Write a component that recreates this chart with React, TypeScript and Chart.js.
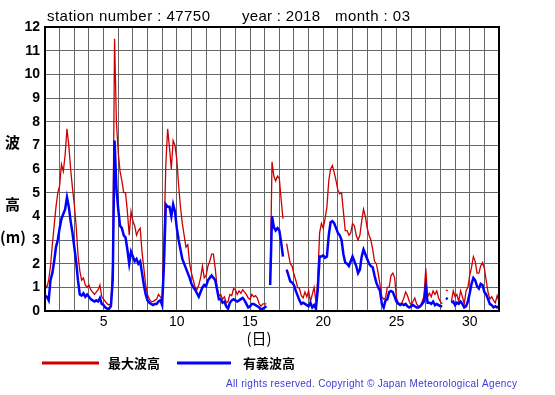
import React, { useEffect, useRef } from "react";
import { Chart, registerables } from "chart.js";

Chart.register(...registerables);

// 3-hourly samples starting at day 1.0 (00h, March 1) through day 32.0 (April 1, 00h)
const START_DAY = 1;
const STEP_DAY = 0.125;

const xTickLabels = [5, 10, 15, 20, 25, 30];
const yTicks = [0, 1, 2, 3, 4, 5, 6, 7, 8, 9, 10, 11, 12];

// 最大波高 (maximum wave height, m)
const maxWave: (number | null)[] = [
  1.1, 1.0, 1.3, 1.9, 2.8, 3.6, 4.4, 5.0, // day 1
  5.3, 6.2, 5.9, 6.6, 7.7, 7.0, 6.0, 5.2, // day 2
  4.5, 3.6, 2.4, 1.7, 1.3, 1.4, 1.1, 1.0, // day 3
  1.1, 0.9, 0.8, 0.7, 0.8, 0.9, 1.1, 0.6, // day 4
  0.5, 0.4, 0.3, 0.25, 0.3, 2.0, 11.5, 8.0, // day 5
  6.7, 5.9, 5.5, 5.0, 5.0, 4.2, 3.2, 4.2, // day 6
  3.8, 3.6, 3.2, 3.4, 3.5, 2.5, 1.8, 1.1, // day 7
  0.7, 0.5, 0.4, 0.4, 0.45, 0.5, 0.7, 0.6, // day 8
  0.5, 3.0, 6.2, 7.7, 6.9, 6.0, 7.2, 7.0, // day 9
  6.4, 5.3, 4.4, 3.7, 3.2, 2.7, 2.8, 2.0, // day 10
  1.6, 1.3, 1.0, 0.9, 1.1, 1.4, 1.9, 1.4, // day 11
  1.5, 1.9, 2.1, 2.4, 2.4, 1.8, 1.0, 0.65, // day 12
  0.7, 0.5, 0.6, 0.35, 0.4, 0.7, 0.65, 0.95, // day 13
  0.9, 0.7, 0.85, 0.75, 0.9, 0.8, 0.7, 0.55, // day 14
  0.5, 0.7, 0.6, 0.65, 0.55, 0.3, 0.2, 0.3, // day 15
  0.3, 0.3, null, 1.1, 6.3, 5.7, 5.5, 5.7, // day 16
  5.6, 4.7, 3.9, null, 2.85, 2.4, 2.0, 1.9, // day 17
  1.55, 1.3, 1.0, 0.95, 0.65, 0.55, 0.8, 0.6, // day 18
  0.85, 0.4, 0.7, 1.0, 0.4, 1.3, 3.3, 3.7, // day 19
  3.5, 3.9, 4.4, 5.5, 6.0, 6.15, 5.85, 5.5, // day 20
  5.1, 4.95, 5.0, 4.2, 3.4, 3.4, 3.2, 3.3, // day 21
  3.7, 3.6, 3.2, 3.0, 3.2, 3.8, 4.3, 4.0, // day 22
  3.5, 3.2, 3.0, 2.6, 2.1, 2.0, 1.6, 1.1, // day 23
  0.6, 0.5, 0.55, 1.0, 1.0, 1.5, 1.6, 1.4, // day 24
  0.55, 0.35, 0.3, 0.35, 0.55, 0.8, 0.65, 0.4, // day 25
  0.25, 0.4, 0.55, 0.3, 0.2, 0.2, 0.4, 0.6, // day 26
  1.8, 0.6, 0.75, 0.6, 0.85, 0.7, 0.85, 0.55, // day 27
  0.4, 0.3, null, 0.9, 0.85, null, 0.4, 0.85, // day 28
  0.6, 0.7, 0.4, 0.85, 0.6, 0.3, 0.85, 1.0, // day 29
  1.5, 1.85, 2.3, 2.1, 1.6, 1.6, 1.9, 2.05, // day 30
  1.8, 1.3, 0.8, 0.5, 0.6, 0.45, 0.35, 0.65, // day 31
  0.4, // day 32 00h
];

// 有義波高 (significant wave height, m)
const sigWave: (number | null)[] = [
  0.65, 0.6, 0.45, 1.3, 1.6, 2.1, 2.7, 3.0, // day 1
  3.5, 3.9, 4.1, 4.3, 4.8, 4.4, 3.8, 3.3, // day 2
  2.7, 2.1, 1.3, 0.7, 0.65, 0.75, 0.6, 0.7, // day 3
  0.6, 0.5, 0.45, 0.4, 0.45, 0.4, 0.55, 0.3, // day 4
  0.25, 0.15, 0.1, 0.1, 0.2, 1.3, 7.2, 5.2, // day 5
  4.3, 3.6, 3.5, 3.2, 3.1, 2.6, 2.0, 2.5, // day 6
  2.3, 2.1, 2.2, 2.0, 2.1, 1.6, 1.1, 0.7, // day 7
  0.45, 0.35, 0.3, 0.25, 0.3, 0.3, 0.4, 0.45, // day 8
  0.25, 2.0, 4.5, 4.4, 4.4, 4.0, 4.5, 4.2, // day 9
  3.5, 3.0, 2.6, 2.2, 2.0, 1.8, 1.6, 1.4, // day 10
  1.15, 1.0, 0.9, 0.75, 0.6, 0.8, 1.0, 1.1, // day 11
  1.05, 1.3, 1.4, 1.5, 1.4, 1.3, 0.9, 0.5, // day 12
  0.5, 0.35, 0.4, 0.2, 0.1, 0.35, 0.45, 0.5, // day 13
  0.45, 0.4, 0.45, 0.5, 0.55, 0.45, 0.3, 0.15, // day 14
  0.2, 0.3, 0.3, 0.25, 0.2, 0.15, 0.05, 0.1, // day 15
  0.15, 0.2, null, 1.1, 4.0, 3.55, 3.4, 3.5, // day 16
  3.4, 2.9, 2.3, null, 1.75, 1.5, 1.25, 1.2, // day 17
  1.1, 0.85, 0.65, 0.45, 0.3, 0.35, 0.3, 0.25, // day 18
  0.2, 0.35, 0.15, 0.25, 0.1, 0.9, 2.3, 2.3, // day 19
  2.35, 2.25, 2.3, 3.2, 3.75, 3.8, 3.7, 3.5, // day 20
  3.3, 3.2, 3.0, 2.4, 2.05, 2.0, 1.9, 2.1, // day 21
  2.3, 2.1, 1.9, 1.6, 1.75, 2.3, 2.6, 2.4, // day 22
  2.2, 2.0, 1.9, 1.85, 1.5, 1.2, 1.0, 0.85, // day 23
  0.3, 0.15, 0.45, 0.5, 0.8, 0.85, 0.8, 0.6, // day 24
  0.4, 0.3, 0.25, 0.3, 0.25, 0.3, 0.2, 0.15, // day 25
  0.2, 0.25, 0.2, 0.15, 0.15, 0.2, 0.3, 0.4, // day 26
  1.0, 0.35, 0.35, 0.3, 0.4, 0.25, 0.3, 0.25, // day 27
  0.2, 0.2, null, 0.55, 0.5, null, 0.35, 0.4, // day 28
  0.25, 0.35, 0.3, 0.4, 0.3, 0.15, 0.2, 0.4, // day 29
  0.75, 1.15, 1.4, 1.3, 1.05, 0.95, 1.15, 1.1, // day 30
  0.8, 0.7, 0.5, 0.3, 0.25, 0.15, 0.2, 0.15, // day 31
  0.2, // day 32 00h
];

const days = maxWave.map((_, i) => START_DAY + i * STEP_DAY);

const LATIN = '"Liberation Sans", Arial, Helvetica, sans-serif';
const CJK = '"Noto Sans CJK JP", "Noto Sans CJK SC", sans-serif';

function drawFitted(ctx: CanvasRenderingContext2D, text: string, x: number, y: number, width?: number) {
  const anyCtx = ctx as any;
  if (width && "letterSpacing" in anyCtx) {
    anyCtx.letterSpacing = "0px";
    const w = ctx.measureText(text).width;
    const ls = (width - w) / Math.max(1, text.length - 1);
    anyCtx.letterSpacing = ls + "px";
    ctx.fillText(text, x, y);
    anyCtx.letterSpacing = "0px";
  } else {
    ctx.fillText(text, x, y);
  }
}

const decorPlugin = {
  id: "decor",
  afterDraw(chart: any) {
    const ctx: CanvasRenderingContext2D = chart.ctx;
    const a = chart.chartArea;
    ctx.save();
    // frame
    ctx.strokeStyle = "#000";
    ctx.lineWidth = 2;
    ctx.strokeRect(a.left, a.top, a.right - a.left, a.bottom - a.top);

    ctx.fillStyle = "#000";
    ctx.textBaseline = "middle";
    ctx.textAlign = "left";
    // title
    ctx.font = `15px ${LATIN}`;
    drawFitted(ctx, "station number : 47750", 47, 17, 163);
    drawFitted(ctx, "year : 2018", 242, 17, 78);
    drawFitted(ctx, "month : 03", 335, 17, 75);

    // y-axis title
    ctx.textAlign = "center";
    ctx.font = `bold 15px ${CJK}`;
    ctx.fillText("波", 12.5, 142);
    ctx.fillText("高", 12.5, 204);
    ctx.fillText("(m)", 13, 237);

    // x-axis title
    ctx.font = `15px ${CJK}`;
    ctx.fillText("(日)", 259, 338);

    // legend
    ctx.lineWidth = 3;
    ctx.strokeStyle = "#cc0000";
    ctx.beginPath();
    ctx.moveTo(42, 363);
    ctx.lineTo(99, 363);
    ctx.stroke();
    ctx.strokeStyle = "#0000ff";
    ctx.beginPath();
    ctx.moveTo(177, 363);
    ctx.lineTo(231, 363);
    ctx.stroke();
    ctx.textAlign = "left";
    ctx.font = `bold 13px ${CJK}`;
    ctx.fillText("最大波高", 108, 363);
    ctx.fillText("有義波高", 243, 363);

    // copyright
    ctx.fillStyle = "#3a3ad6";
    ctx.font = `10px ${LATIN}`;
    drawFitted(ctx, "All rights reserved. Copyright © Japan Meteorological Agency", 226, 384, 291);
    ctx.restore();
  },
};

export default function App() {
  const canvasRef = useRef<HTMLCanvasElement | null>(null);

  useEffect(() => {
    const canvas = canvasRef.current;
    if (!canvas) return;
    const chart = new Chart(canvas, {
      type: "line",
      data: {
        datasets: [
          {
            label: "有義波高",
            data: days.map((d, i) => ({ x: d, y: sigWave[i] })),
            borderColor: "#0000ff",
            borderWidth: 2.5,
            pointRadius: 0,
            tension: 0,
            spanGaps: false,
            order: 1,
          },
          {
            label: "最大波高",
            data: days.map((d, i) => ({ x: d, y: maxWave[i] })),
            borderColor: "#cc0000",
            borderWidth: 1.3,
            pointRadius: 0,
            tension: 0,
            spanGaps: false,
            order: 2,
          },
        ],
      },
      options: {
        responsive: false,
        animation: false,
        devicePixelRatio: 1,
        layout: { padding: { left: 0, right: 56, top: 27, bottom: 0 } },
        plugins: {
          legend: { display: false },
          tooltip: { enabled: false },
          title: { display: false },
        },
        scales: {
          x: {
            type: "linear",
            min: 1,
            max: 32,
            afterFit: (s: any) => {
              s.height = 84;
            },
            ticks: {
              stepSize: 1,
              maxTicksLimit: 50,
              autoSkip: false,
              maxRotation: 0,
              padding: 3,
              color: "#000",
              font: { family: LATIN, size: 14 },
              callback: (v: any) => (xTickLabels.includes(Number(v)) ? String(v) : ""),
            },
            grid: { color: "#666666", lineWidth: 1, drawTicks: false },
            border: { display: false },
          },
          y: {
            min: 0,
            max: 12,
            afterFit: (s: any) => {
              s.width = 45;
            },
            ticks: {
              stepSize: 1,
              maxTicksLimit: 20,
              padding: 5,
              color: "#000",
              font: { family: LATIN, size: 14, weight: "bold" },
              callback: (v: any) => (yTicks.includes(Number(v)) ? String(v) : ""),
            },
            grid: { color: "#666666", lineWidth: 1, drawTicks: false },
            border: { display: false },
          },
        },
      },
      plugins: [decorPlugin],
    });
    return () => chart.destroy();
  }, []);

  return (
    <div style={{ position: "absolute", left: 0, top: 0, width: 555, height: 395, background: "#fff" }}>
      <canvas ref={canvasRef} width={555} height={395} style={{ width: 555, height: 395, display: "block" }} />
    </div>
  );
}
